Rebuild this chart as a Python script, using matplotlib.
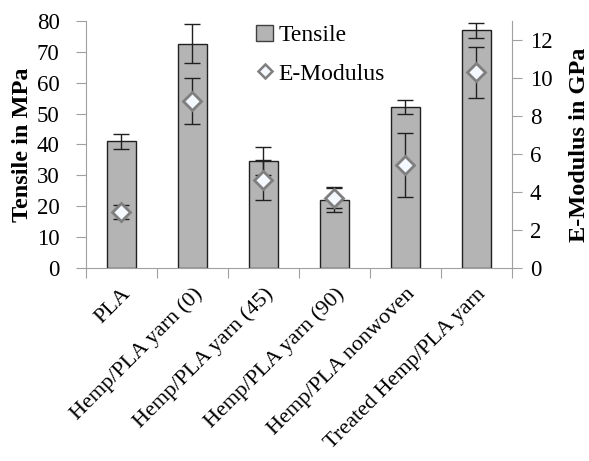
import matplotlib.pyplot as plt
from matplotlib.lines import Line2D
from matplotlib.patches import Patch
import numpy as np

plt.rcParams['font.family'] = ['Liberation Serif', 'DejaVu Serif']

categories = ['PLA', 'Hemp/PLA yarn (0)', 'Hemp/PLA yarn (45)', 'Hemp/PLA yarn (90)',
              'Hemp/PLA nonwoven', 'Treated Hemp/PLA yarn']
tensile = [41.0, 72.7, 34.6, 22.0, 52.2, 77.0]
tensile_err = [2.4, 6.3, 4.6, 4.0, 2.3, 2.4]
modulus = [2.93, 8.8, 4.63, 3.7, 5.42, 10.3]
modulus_err = [0.36, 1.2, 1.05, 0.55, 1.7, 1.35]

gray_axis = '#a0a0a0'
fs = 16.5

fig = plt.figure(figsize=(5.89, 4.61), dpi=100)
ax = fig.add_axes([0.146, 0.4187, 0.723, 0.5358])
x = np.arange(len(categories))

ax.bar(x, tensile, width=0.41, color='#b4b4b4', edgecolor='#202020', linewidth=1.0, zorder=2)
ax.errorbar(x, tensile, yerr=tensile_err, fmt='none', ecolor='#202020', elinewidth=1.0,
            capsize=6, capthick=1.0, zorder=3)
ax.set_xlim(-0.5, len(categories) - 0.5)
ax.set_ylim(0, 80)
ax.set_yticks(range(0, 81, 10))
ax.set_ylabel('Tensile in MPa', fontsize=17.5, fontweight='bold', labelpad=3)

ax2 = ax.twinx()
ax2.errorbar(x, modulus, yerr=modulus_err, fmt='none', ecolor='#202020', elinewidth=1.0,
             capsize=6, capthick=1.0, zorder=3)
ax2.plot(x, modulus, linestyle='none', marker='D', markersize=9.5, markerfacecolor='#f4f8ff',
         markeredgecolor='#7f7f7f', markeredgewidth=2, zorder=4)
ax2.set_ylim(0, 13)
ax2.set_yticks(range(0, 13, 2))
ax2.set_ylabel('E-Modulus in GPa', fontsize=17.5, fontweight='bold', labelpad=12)

# category boundary ticks like the original spreadsheet chart
ax.set_xticks(np.arange(-0.5, len(categories), 1.0))
ax.set_xticklabels([])
ax.set_xticks(x, minor=True)
ax.set_xticklabels(categories, minor=True, rotation=45, ha='right', va='top',
                   rotation_mode='anchor', fontsize=16)
ax.tick_params(axis='x', which='minor', length=0, pad=12)
ax.tick_params(axis='x', which='major', length=7, color=gray_axis, direction='out')

for a in (ax, ax2):
    a.spines['top'].set_visible(False)
    for s in ('left', 'right', 'bottom'):
        a.spines[s].set_color(gray_axis)
ax.spines['right'].set_visible(False)
ax2.spines['left'].set_visible(False)
ax2.spines['bottom'].set_visible(False)
ax.tick_params(axis='y', length=7, color=gray_axis, labelsize=fs, pad=12)
ax2.tick_params(axis='y', length=7, color=gray_axis, labelsize=fs, pad=6)

handles = [Patch(facecolor='#b4b4b4', edgecolor='#404040', linewidth=1.0),
           Line2D([], [], linestyle='none', marker='D', markersize=7, markerfacecolor='#f4f8ff',
                  markeredgecolor='#7f7f7f', markeredgewidth=1.8)]
ax.legend(handles, ['Tensile', 'E-Modulus'], loc='upper left', bbox_to_anchor=(0.35, 1.07),
          frameon=False, fontsize=17, handlelength=0.7, handleheight=0.7,
          handletextpad=0.25, labelspacing=0.7)

fig.savefig('out.png', dpi=100)
